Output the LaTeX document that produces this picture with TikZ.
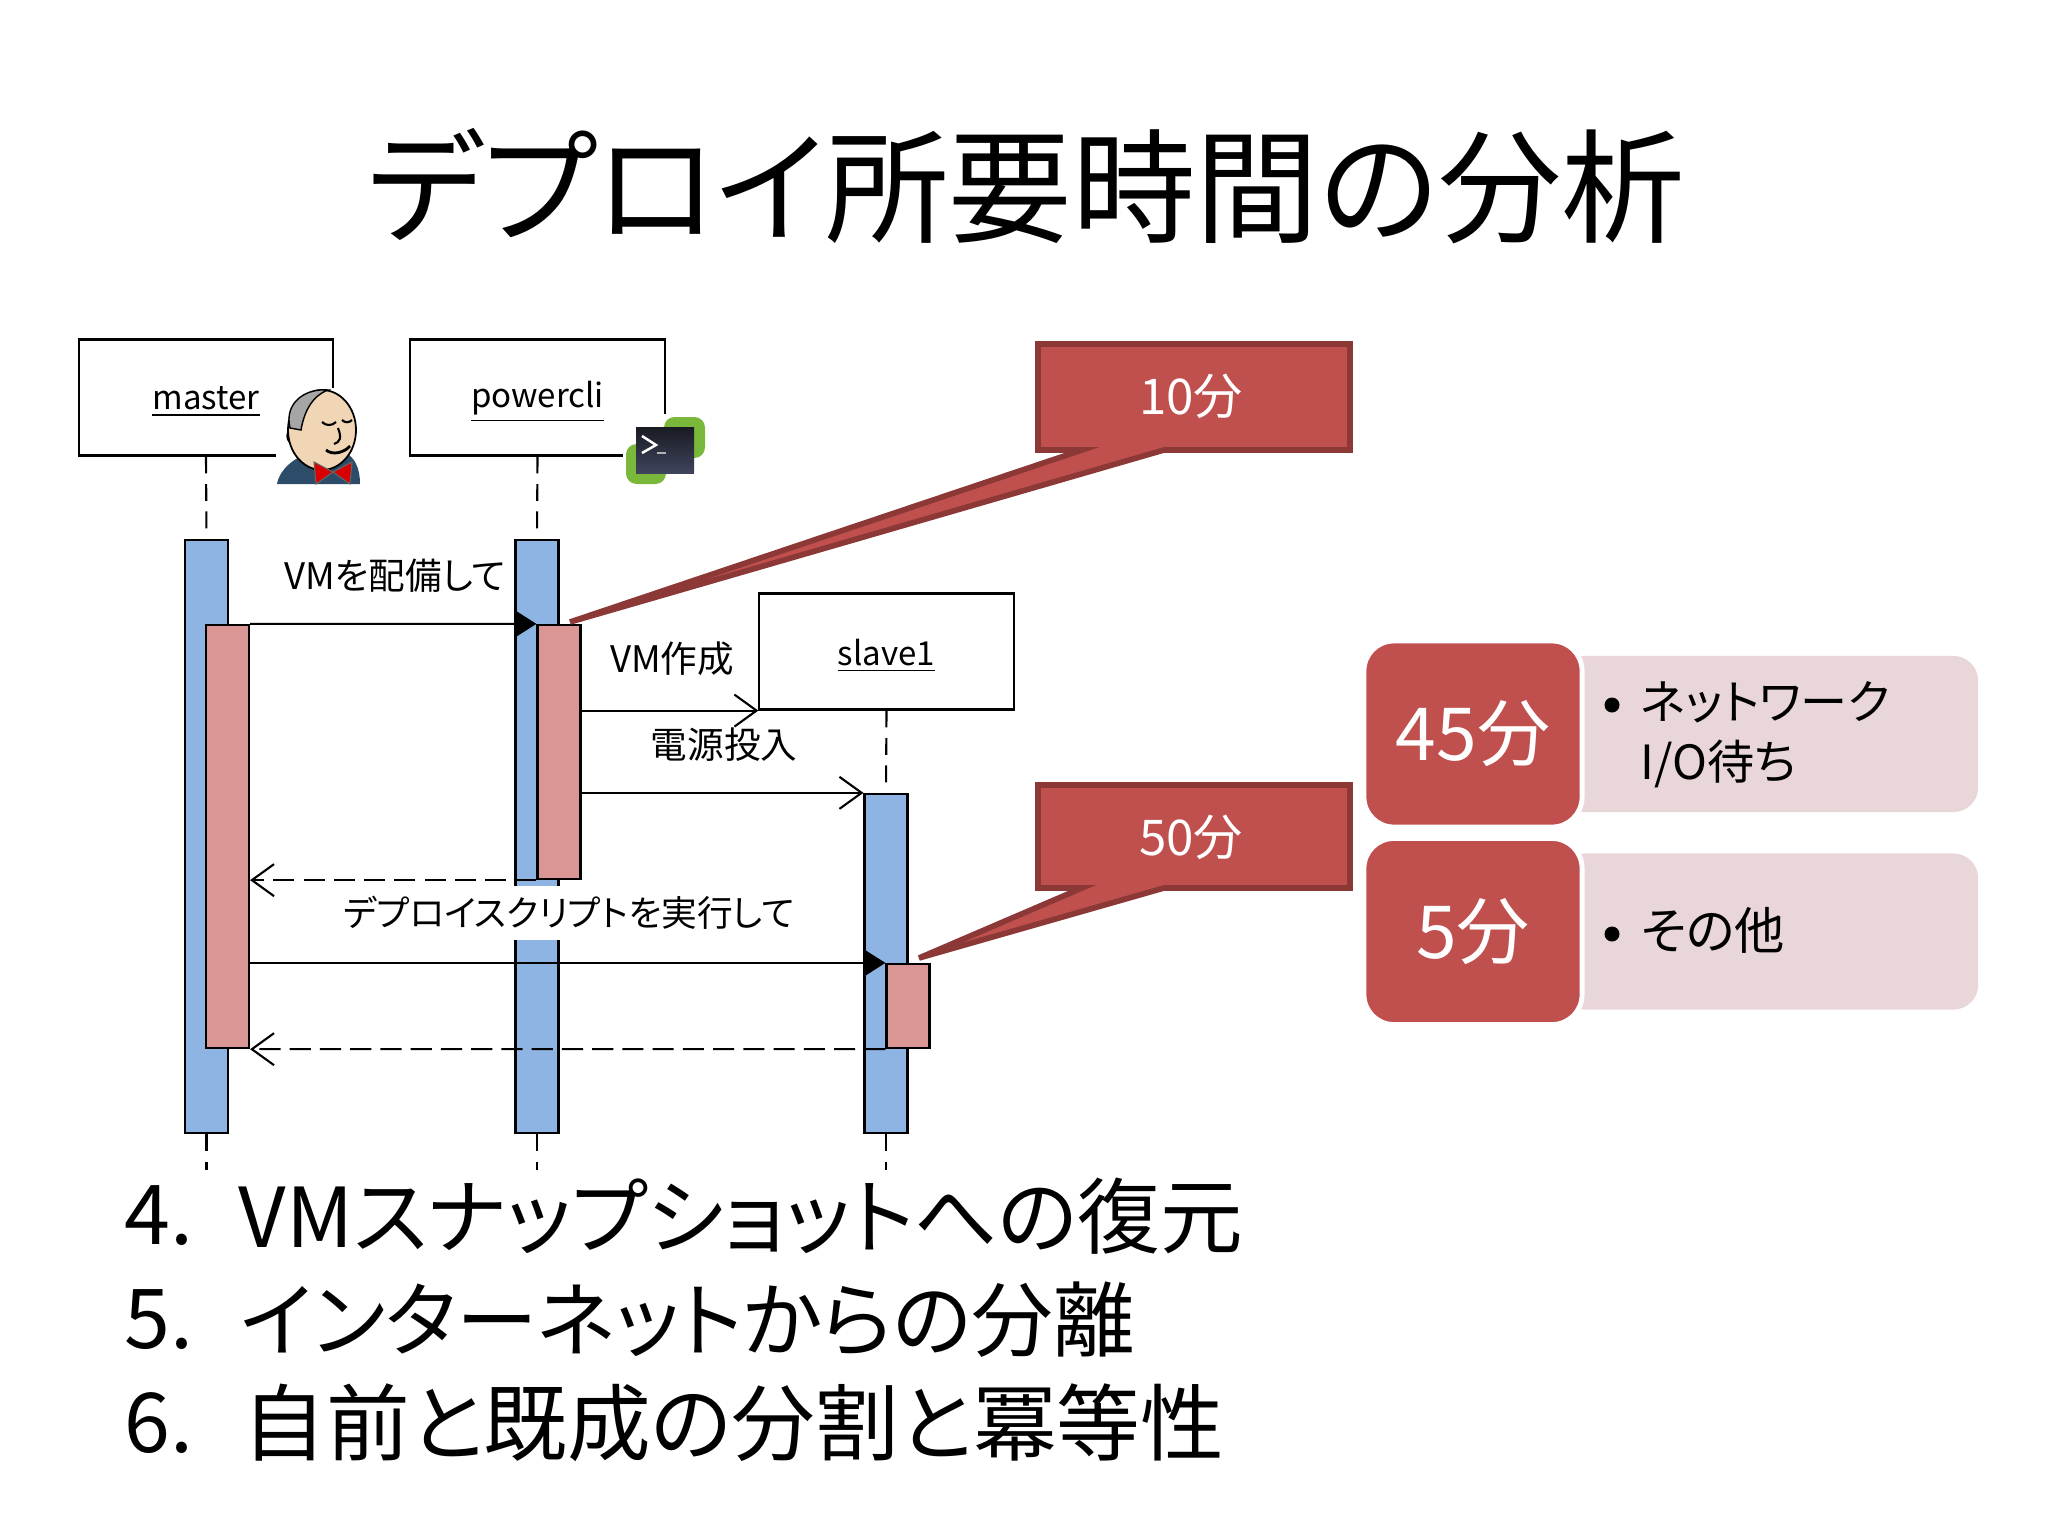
\documentclass[tikz,border=0pt]{standalone}
\usepackage{fontspec}
\usepackage{xcolor}
\usepackage{tikz}
\usetikzlibrary{arrows.meta}
\setmainfont[RawFeature=+palt]{Noto Sans CJK JP}
\definecolor{ActBlue}{RGB}{142, 180, 227}
\definecolor{ActRed}{RGB}{217, 150, 148}
\definecolor{CallRed}{RGB}{192, 80, 77}
\definecolor{CallEdge}{RGB}{140, 56, 54}
\definecolor{ListPink}{RGB}{233, 214, 216}
\definecolor{CoatBlue}{RGB}{44, 76, 106}
\definecolor{SkinTone}{RGB}{240, 214, 180}
\definecolor{ShellGreen}{RGB}{122, 184, 60}
\definecolor{ShellTop}{RGB}{25, 27, 35}
\definecolor{ShellLow}{RGB}{62, 68, 92}
\tikzset{
    lifebox/.style = {draw, line width = 0.6pt, fill = white, minimum width = 2.54cm, minimum height = 1.16cm, inner sep = 0pt, font = \fontsize{9.4pt}{10pt}\selectfont},
    actblue/.style = {draw, line width = 0.6pt, fill = ActBlue, minimum width = 0.43cm, inner sep = 0pt},
    actred/.style = {draw, line width = 0.6pt, fill = ActRed, minimum width = 0.43cm, inner sep = 0pt},
    lifeline/.style = {line width = 0.6pt, dash pattern = on 4.8pt off 3pt},
    msgcall/.style = {line width = 0.6pt, -{Triangle[length = 5.7pt, width = 7.1pt]}},
    msgopen/.style = {line width = 0.6pt, -{Straight Barb[length = 6.3pt, width = 9.1pt]}},
    msgback/.style = {msgopen, dash pattern = on 6pt off 2.6pt},
    msglabel/.style = {inner sep = 0pt, font = \fontsize{10.4pt}{11pt}\selectfont},
    callshape/.style = {fill = CallRed, draw = CallEdge, line width = 1.6pt, line join = miter},
    calltext/.style = {text = white, inner sep = 0pt, font = \fontsize{14pt}{16pt}\selectfont},
    timebox/.style = {fill = CallRed, draw = white, line width = 1.4pt, rounded corners = 8.5pt, minimum width = 2.18cm, text = white, inner sep = 0pt, font = \fontsize{20.8pt}{24pt}\selectfont},
    listbox/.style = {fill = ListPink, rounded corners = 7pt, minimum width = 4.18cm, inner sep = 0pt},
    listtext/.style = {anchor = west, align = left, inner sep = 0pt, font = \fontsize{13.4pt}{17pt}\selectfont},
    listdot/.style = {circle, fill = black, minimum size = 0.15cm, inner sep = 0pt},
    bigtext/.style = {anchor = west, inner sep = 0pt, font = \fontsize{23.5pt}{27pt}\selectfont}
}
\begin{document}
\begin{tikzpicture}[x = 0.01cm, y = -0.01cm]
    \useasboundingbox (0, 0) rectangle (2048, 1536);
    %标题
    \node[inner sep = 0pt, font = \fontsize{35.1pt}{40pt}\selectfont] (title) at (1026, 186) {デプロイ所要時間の分析};
    %生命线方框
    \node[lifebox] (master) at (206, 397.5) {};
    \node[lifebox] (powercli) at (537.5, 397.5) {};
    \node[lifebox] (slave) at (886.5, 651.5) {};
    \node[lifebox, draw = none, fill = none] (mastertext) at (206, 402) {\underline{master}};
    \node[lifebox, draw = none, fill = none] (powerclitext) at (537.5, 402) {\underline{powercli}};
    \node[lifebox, draw = none, fill = none] (slavetext) at (886.5, 656) {\underline{slave1}};
    %激活条
    \node[actblue, minimum height = 5.93cm] (bluemaster) at (206.5, 836.5) {};
    \node[actblue, minimum height = 5.93cm] (bluepower) at (537, 836.5) {};
    \node[actblue, minimum height = 3.39cm] (blueslave) at (886, 963.5) {};
    \node[actred, minimum height = 4.23cm] (redmaster) at (227.5, 836.5) {};
    \node[actred, minimum height = 2.54cm] (redpower) at (559, 752) {};
    \node[actred, minimum height = 0.84cm] (redslave) at (908, 1006) {};
    %虚线
    \coordinate (endmaster) at (206.5, 1170);
    \coordinate (endpower) at (537, 1170);
    \coordinate (endslave) at (886, 1170);
    \draw[lifeline] (master.south) -- (bluemaster.north);
    \draw[lifeline] (powercli.south) -- (bluepower.north);
    \draw[lifeline] (slave.south) -- (blueslave.north);
    \draw[lifeline] (bluemaster.south) -- (endmaster);
    \draw[lifeline] (bluepower.south) -- (endpower);
    \draw[lifeline] (blueslave.south) -- (endslave);
    %消息文字
    \node[msglabel] (msgdeploy) at (395, 576) {VMを配備して};
    \node[msglabel] (msgcreate) at (672, 659) {VM作成};
    \node[msglabel] (msgpower) at (724, 745) {電源投入};
    \node[msglabel, fill = white, inner sep = 3pt, font = \fontsize{10.15pt}{11pt}\selectfont] (msgrun) at (569, 913) {デプロイスクリプトを実行して};
    %消息箭头
    \draw[msgcall] (redmaster.north east) -- (redpower.north west);
    \draw[msgopen] (redpower.east |- slave.south west) -- (slave.south west);
    \draw[msgopen] (redpower.east |- blueslave.north west) -- (blueslave.north west);
    \draw[msgback] (redpower.south west) -- (redmaster.east |- redpower.south west);
    \draw[msgcall] (redmaster.east |- redslave.north west) -- (redslave.north west);
    \draw[msgback] (redslave.south west) -- (redmaster.south east);
    %标注框
    \filldraw[callshape] (1038, 344) -- (1350, 344) -- (1350, 450) -- (1164, 450) -- (570, 622) -- (1082, 450) -- (1038, 450) -- cycle;
    \node[calltext] (callten) at (1191, 396) {10分};
    \filldraw[callshape] (1038, 785) -- (1350, 785) -- (1350, 888) -- (1164, 888) -- (919, 958) -- (1082, 888) -- (1038, 888) -- cycle;
    \node[calltext] (callfifty) at (1191, 837) {50分};
    %右侧列表
    \node[listbox, minimum height = 1.56cm] (listnet) at (1769, 734) {};
    \node[listbox, minimum height = 1.56cm] (listother) at (1769, 931.5) {};
    \node[timebox, minimum height = 1.86cm] (timenet) at (1473, 734) {\raisebox{0.03cm}{45分}};
    \node[timebox, minimum height = 1.86cm] (timeother) at (1473, 931.5) {\raisebox{0.03cm}{5分}};
    \node[listdot] (dotnet) at (1612, 705) {};
    \node[listtext] (textnet) at (1640, 735) {ネットワーク\\I/O待ち};
    \node[listdot] (dotother) at (1612, 934) {};
    \node[listtext, font = \fontsize{14.3pt}{17pt}\selectfont] (textother) at (1640, 930) {その他};
    %下方列表
    \node[bigtext] (numfour) at (124, 1216) {4.};
    \node[bigtext] (itemfour) at (238, 1216) {VMスナップショットへの復元};
    \node[bigtext] (numfive) at (124, 1320) {5.};
    \node[bigtext, font = \fontsize{23.25pt}{27pt}\selectfont] (itemfive) at (240, 1320) {インターネットからの分離};
    \node[bigtext] (numsix) at (124, 1423) {6.};
    \node[bigtext, font = \fontsize{23.8pt}{27pt}\selectfont] (itemsix) at (242, 1423) {自前と既成の分割と冪等性};
    %Jenkins 头像
    \fill[white] (276, 388) rectangle (361, 484);
    \fill[CoatBlue] (277, 484) .. controls (280, 468) and (295, 458) .. (310, 452) -- (345, 452) .. controls (355, 458) and (360, 468) .. (360, 484) -- cycle;
    \filldraw[draw = black, line width = 0.4pt, fill = SkinTone] (296, 436) circle (9);
    \filldraw[draw = black, line width = 0.5pt, fill = SkinTone] (322, 430) ellipse (34 and 40);
    \filldraw[draw = black, line width = 0.4pt, fill = gray!70] (290, 428) .. controls (284, 403) and (305, 388) .. (328, 390) .. controls (312, 396) and (304, 412) .. (301, 430) -- cycle;
    \draw[line width = 0.6pt] (322, 422) .. controls (326, 426) and (332, 426) .. (336, 422);
    \draw[line width = 0.6pt] (342, 420) .. controls (345, 423) and (349, 423) .. (352, 420);
    \draw[line width = 0.6pt] (338, 428) .. controls (342, 438) and (340, 442) .. (334, 444);
    \draw[line width = 0.8pt] (326, 450) .. controls (333, 456) and (345, 452) .. (350, 446);
    \filldraw[draw = black!60, line width = 0.3pt, fill = red!85!black] (333, 472) -- (314, 462) -- (316, 484) -- cycle;
    \filldraw[draw = black!60, line width = 0.3pt, fill = red!85!black] (333, 472) -- (352, 462) -- (350, 484) -- cycle;
    %PowerCLI 图标
    \fill[white] (623, 414) rectangle (707, 492);
    \fill[ShellGreen, rounded corners = 3pt] (664, 417) rectangle (705, 458);
    \fill[ShellGreen, rounded corners = 3pt] (626, 444) rectangle (666, 484);
    \shade[top color = ShellTop, bottom color = ShellLow] (636, 427) rectangle (694, 473);
    \draw[white, line width = 0.7pt] (642, 436) -- (656, 445) -- (642, 453);
    \draw[gray!60, line width = 0.7pt] (657, 453) -- (666, 453);
\end{tikzpicture}
\end{document}
